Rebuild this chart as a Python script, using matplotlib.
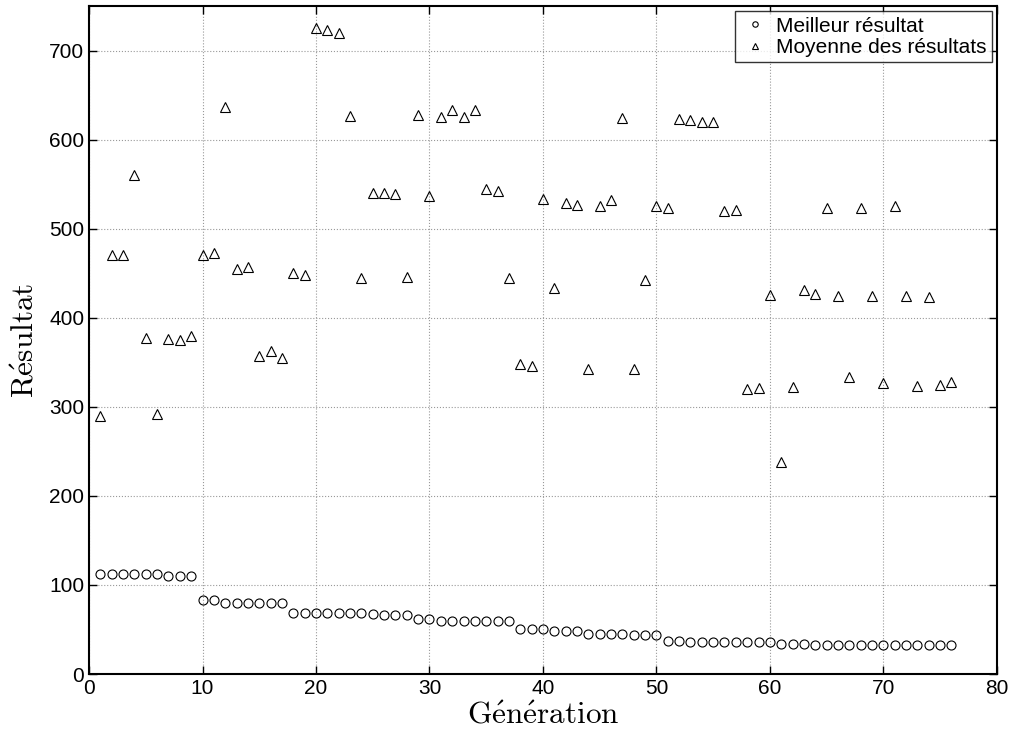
import numpy as np
import matplotlib
matplotlib.use("Agg")
import matplotlib.pyplot as plt

plt.rcParams['font.family'] = ['Liberation Sans', 'DejaVu Sans']
plt.rcParams['mathtext.fontset'] = 'cm'

generations = list(range(1, 77))

best = [112, 112, 112, 112, 112, 112, 110, 110, 110,
        83, 83, 80, 80, 80, 80, 80, 80,
        68, 68, 68, 68, 68, 68, 68, 67, 66, 66, 66,
        62, 62, 60, 60, 60, 60, 60, 60, 60,
        51, 51, 51, 48, 48, 48, 45, 45, 45, 45, 44, 44, 44,
        37, 37, 35.5, 35.5, 35.5, 35.5, 35.5, 35.5, 35.5, 35.5,
        34, 34, 34, 33, 33, 33, 33, 33, 33, 33, 33, 33, 33, 33, 33, 33]

mean = [290, 470, 470, 560, 377, 292, 376, 375, 380, 471,
        473, 637, 455, 457, 357, 363, 355, 450, 448, 725,
        723, 720, 627, 445, 540, 540, 539, 446, 628, 537,
        626, 633, 626, 633, 545, 542, 445, 348, 346, 533,
        433, 529, 527, 342, 525, 532, 624, 342, 442, 525,
        523, 623, 622, 620, 620, 520, 521, 320, 321, 426,
        238, 322, 431, 427, 523, 425, 333, 523, 425, 327,
        525, 424, 323, 423, 325, 328]

fig = plt.figure(figsize=(10.12, 7.38), dpi=100)
ax = fig.add_axes([0.088, 0.0867, 0.897, 0.905])

ax.plot(generations, best, linestyle='none', marker='o', markersize=6.5,
        markerfacecolor='none', markeredgecolor='black', markeredgewidth=0.8,
        label='Meilleur résultat')
ax.plot(generations, mean, linestyle='none', marker='^', markersize=6.5,
        markerfacecolor='none', markeredgecolor='black', markeredgewidth=0.8,
        label='Moyenne des résultats')

ax.set_xlim(0, 80)
ax.set_ylim(0, 750)
ax.set_xticks(range(0, 81, 10))
ax.set_yticks(range(0, 701, 100))
ax.tick_params(direction='in', top=True, right=True, labelsize=15,
               length=6, width=1)
ax.grid(True, linestyle=':', color='#999999', linewidth=0.8)
for s in ax.spines.values():
    s.set_linewidth(1.5)

ax.set_xlabel(r'$\mathrm{G\acute{e}n\acute{e}ration}$', fontsize=22.5, labelpad=2)
ax.set_ylabel(r'$\mathrm{R\acute{e}sultat}$', fontsize=22.5, labelpad=6)

leg = ax.legend(loc='upper right', fontsize=15, frameon=True, fancybox=False,
                edgecolor='black', borderpad=0.25, handlelength=1.4,
                handletextpad=0.3, borderaxespad=0.25, labelspacing=0.12,
                markerscale=0.6)
leg.get_frame().set_linewidth(1.0)

fig.savefig('out.png', dpi=100)
